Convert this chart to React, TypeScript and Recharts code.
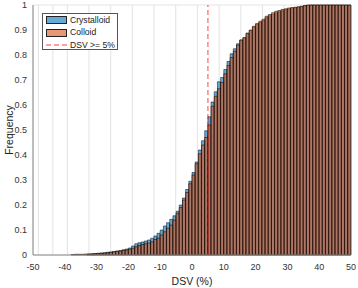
import { BarChart, Bar, XAxis, YAxis, CartesianGrid, ReferenceLine } from "recharts";

// bins are 1% wide, first bin starts at -38
const BIN_START = -38;

const COLLOID = [
  0.002, 0.003, 0.003, 0.003, 0.004, 0.004, 0.004, 0.005, 0.006, 0.007,
  0.008, 0.009, 0.011, 0.013, 0.015, 0.016, 0.018, 0.02, 0.023, 0.027,
  0.033, 0.038, 0.042, 0.045, 0.048, 0.053, 0.062, 0.067, 0.08, 0.093,
  0.107, 0.12, 0.14, 0.167, 0.19, 0.22, 0.25, 0.285, 0.32, 0.365,
  0.405, 0.44, 0.47, 0.52, 0.595, 0.635, 0.665, 0.69, 0.725, 0.758,
  0.79, 0.815, 0.84, 0.86, 0.87, 0.888, 0.9, 0.915, 0.926, 0.935,
  0.943, 0.955, 0.962, 0.969, 0.975, 0.978, 0.982, 0.985, 0.988, 0.99,
  0.991, 0.993, 0.995, 0.998, 1, 1, 1, 1, 1, 1,
  1, 1, 1, 1, 1, 1, 1, 1,
];

const CRYSTALLOID = [
  null, null, null, null, null, 0.004, 0.005, 0.006, 0.007, 0.008,
  0.009, 0.011, 0.012, 0.014, 0.016, 0.018, 0.021, 0.024, 0.028, 0.036,
  0.045, 0.049, 0.052, 0.056, 0.06, 0.067, 0.076, 0.087, 0.1, 0.116,
  0.129, 0.143, 0.157, 0.175, 0.2, 0.228, 0.262, 0.295, 0.33, 0.372,
  0.42, 0.457, 0.497, 0.553, 0.612, 0.653, 0.693, 0.71, 0.742, 0.774,
  0.805, 0.825, 0.845, 0.86, 0.868, 0.886, 0.898, 0.912, 0.922, 0.93,
  0.938, 0.95, 0.957, 0.963, 0.969, 0.973, 0.977, 0.981, 0.984, 0.987,
  0.989, 0.991, 0.994, 0.997, 0.999, 1, 1, 1, 1, 1,
  1, 1, 1, 1, 1, 1, 1, 1,
];

const X_TICKS = [-50, -40, -30, -20, -10, 0, 10, 20, 30, 40, 50];
const Y_TICKS = [0, 0.1, 0.2, 0.3, 0.4, 0.5, 0.6, 0.7, 0.8, 0.9, 1];
const THRESHOLD = 5;

const BLUE = "#0072BD";
const ORANGE = "#D95319";
const FONT = "'Liberation Sans', Arial, sans-serif";
const AXIS = "#8a8a8a";

const data = COLLOID.map((c, i) => ({
  x: BIN_START + i + 0.5,
  colloid: c,
  crystalloid: CRYSTALLOID[i],
}));

const tick = { fill: "#333", fontSize: 9, fontFamily: FONT };

function LegendBox() {
  const row = { display: "flex", alignItems: "center", height: 12.5 };
  const patch = (c: string) => ({
    width: 21,
    height: 8,
    background: c,
    border: "1px solid #222",
    boxSizing: "border-box" as const,
    marginRight: 3,
  });
  return (
    <div
      style={{
        position: "absolute",
        left: 42,
        top: 13,
        width: 76,
        height: 37,
        background: "#fff",
        border: "1px solid #555",
        boxSizing: "border-box",
        padding: "0 0 0 3px",
        fontFamily: FONT,
        fontSize: 8.6,
        color: "#222",
        lineHeight: 1,
      }}
    >
      <div style={row}>
        <span style={patch("#66AAD7")} />
        Crystalloid
      </div>
      <div style={row}>
        <span style={patch("#E89875")} />
        Colloid
      </div>
      <div style={row}>
        <svg width={21} height={4} style={{ marginRight: 3 }}>
          <line x1={0} y1={2} x2={21} y2={2} stroke="#ff0000" strokeOpacity={0.5} strokeWidth={1.5} strokeDasharray="5 3" />
        </svg>
        DSV &gt;= 5%
      </div>
    </div>
  );
}

export default function App() {
  return (
    <div style={{ position: "relative", width: 358, height: 288, background: "#fff" }}>
      <style>{"body{margin:0}"}</style>
      <BarChart
        width={358}
        height={288}
        data={data}
        margin={{ top: 5, right: 7, left: 0, bottom: 0 }}
        barCategoryGap={0}
        barGap={0}
      >
        <CartesianGrid stroke="#e3e3e3" />
        <XAxis
          xAxisId="a"
          dataKey="x"
          type="number"
          domain={[-50, 50]}
          ticks={X_TICKS}
          interval={0}
          height={33}
          tick={tick}
          tickLine={false}
          tickSize={6}
          tickMargin={2.5}
          axisLine={{ stroke: AXIS }}
          label={{ value: "DSV (%)", position: "insideBottom", offset: 3, fill: "#222", fontSize: 10.5, fontFamily: FONT }}
        />
        <XAxis xAxisId="b" dataKey="x" type="number" domain={[-50, 50]} hide />
        <XAxis xAxisId="top" orientation="top" type="number" domain={[-50, 50]} height={0} tick={false} tickLine={false} axisLine={{ stroke: AXIS }} />
        <YAxis
          yAxisId="l"
          domain={[0, 1]}
          ticks={Y_TICKS}
          interval={0}
          width={33}
          tick={tick}
          tickLine={false}
          tickSize={4}
          tickMargin={2}
          axisLine={{ stroke: AXIS }}
          label={{ value: "Frequency", angle: -90, position: "insideLeft", offset: 9, fill: "#222", fontSize: 10.5, fontFamily: FONT, style: { textAnchor: "middle" } }}
        />
        <YAxis yAxisId="r" orientation="right" domain={[0, 1]} width={0} tick={false} tickLine={false} axisLine={{ stroke: AXIS }} />
        <Bar
          xAxisId="a"
          yAxisId="l"
          dataKey="crystalloid"
          fill={BLUE}
          fillOpacity={0.6}
          stroke="#000"
          strokeWidth={0.5}
          isAnimationActive={false}
        />
        <Bar
          xAxisId="b"
          yAxisId="l"
          dataKey="colloid"
          fill={ORANGE}
          fillOpacity={0.6}
          stroke="#000"
          strokeWidth={0.5}
          isAnimationActive={false}
        />
        <ReferenceLine
          xAxisId="a"
          yAxisId="l"
          x={THRESHOLD}
          stroke="#ff0000"
          strokeOpacity={0.5}
          strokeWidth={1.5}
          strokeDasharray="5 3"
        />
      </BarChart>
      <LegendBox />
    </div>
  );
}
